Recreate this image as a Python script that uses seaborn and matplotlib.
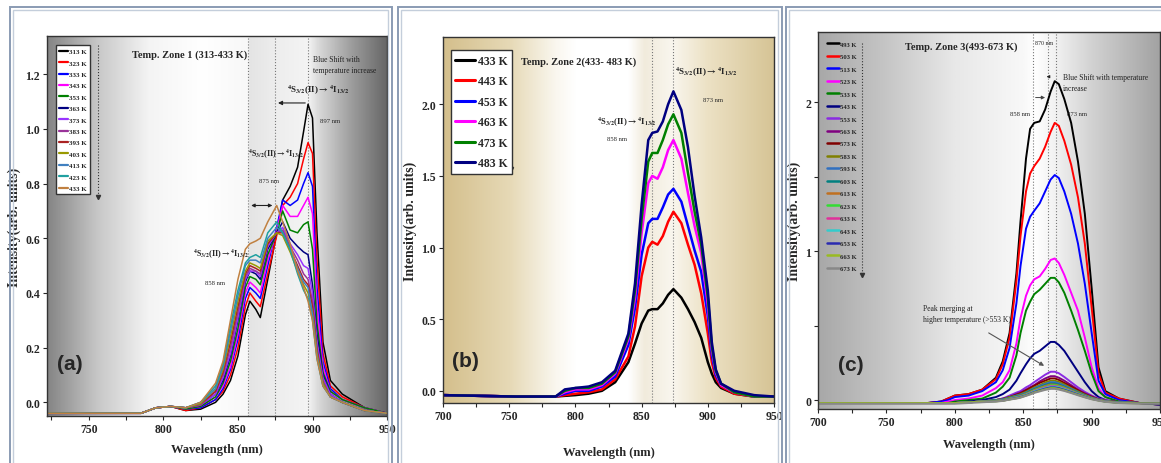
import numpy as np
import pandas as pd
import matplotlib
matplotlib.use("Agg")
import matplotlib.pyplot as plt
import seaborn as sns
from matplotlib.colors import LinearSegmentedColormap
from matplotlib.patches import Rectangle


# ─────────────────────────────────────────────
# DATA
# ─────────────────────────────────────────────
# (a) zone 1, 313-433 K
WL_A = [722, 785, 795, 805, 815, 825, 835, 840, 845, 850, 855, 858, 862, 865,
        870, 876, 880, 885, 890, 894, 897, 900, 903, 907, 912, 920, 935, 950]
TEMPS_A = ["313 K", "323 K", "333 K", "343 K", "353 K", "363 K", "373 K",
           "383 K", "393 K", "403 K", "413 K", "423 K", "433 K"]
COLORS_A = ["#000000", "#ff0000", "#0000ff", "#ff00ff", "#008000", "#000080",
            "#9933ff", "#993399", "#aa2222", "#999900", "#4080c0", "#20a0a0",
            "#c08040"]
I_313 = [-0.04, -0.04, -0.02, -0.015, -0.03, -0.025, 0.0, 0.03, 0.08, 0.17, 0.32, 0.37, 0.34, 0.31,
         0.45, 0.62, 0.74, 0.79, 0.86, 0.99, 1.09, 1.04, 0.62, 0.22, 0.08, 0.03, -0.02, -0.04]
I_323 = [-0.04, -0.04, -0.02, -0.015, -0.03, -0.02, 0.01, 0.04, 0.10, 0.20, 0.35, 0.40, 0.37, 0.35,
         0.47, 0.61, 0.72, 0.75, 0.80, 0.89, 0.95, 0.91, 0.52, 0.18, 0.06, 0.02, -0.02, -0.04]
I_333 = [-0.04, -0.04, -0.02, -0.015, -0.025, -0.02, 0.01, 0.05, 0.12, 0.23, 0.38, 0.42, 0.40, 0.38,
         0.50, 0.64, 0.74, 0.72, 0.74, 0.80, 0.84, 0.79, 0.42, 0.15, 0.05, 0.01, -0.02, -0.04]
I_343 = [-0.04, -0.04, -0.02, -0.015, -0.025, -0.015, 0.02, 0.06, 0.13, 0.25, 0.40, 0.44, 0.42, 0.40,
         0.52, 0.63, 0.72, 0.68, 0.68, 0.72, 0.75, 0.69, 0.35, 0.13, 0.04, 0.01, -0.02, -0.04]
I_353 = [-0.04, -0.04, -0.02, -0.015, -0.025, -0.015, 0.02, 0.07, 0.15, 0.27, 0.42, 0.46, 0.45, 0.43,
         0.54, 0.62, 0.70, 0.63, 0.62, 0.65, 0.66, 0.56, 0.29, 0.11, 0.04, 0.01, -0.02, -0.04]
I_363 = [-0.04, -0.04, -0.02, -0.015, -0.02, -0.01, 0.03, 0.08, 0.17, 0.30, 0.44, 0.48, 0.47, 0.45,
         0.56, 0.62, 0.66, 0.60, 0.57, 0.55, 0.54, 0.43, 0.25, 0.10, 0.03, 0.0, -0.03, -0.04]
I_373 = [-0.04, -0.04, -0.02, -0.015, -0.02, -0.01, 0.03, 0.09, 0.18, 0.31, 0.45, 0.48, 0.48, 0.46,
         0.57, 0.62, 0.64, 0.58, 0.54, 0.50, 0.49, 0.40, 0.22, 0.09, 0.03, 0.0, -0.03, -0.04]
I_383 = [-0.04, -0.04, -0.02, -0.015, -0.02, -0.01, 0.04, 0.10, 0.20, 0.33, 0.46, 0.49, 0.48, 0.47,
         0.58, 0.62, 0.63, 0.57, 0.52, 0.47, 0.45, 0.37, 0.20, 0.08, 0.02, 0.0, -0.03, -0.04]
I_393 = [-0.04, -0.04, -0.02, -0.015, -0.02, -0.005, 0.04, 0.11, 0.22, 0.35, 0.47, 0.50, 0.49, 0.48,
         0.58, 0.62, 0.62, 0.56, 0.50, 0.45, 0.43, 0.35, 0.19, 0.07, 0.02, 0.0, -0.03, -0.04]
I_403 = [-0.04, -0.04, -0.02, -0.015, -0.02, -0.005, 0.05, 0.12, 0.24, 0.37, 0.48, 0.51, 0.50, 0.49,
         0.59, 0.62, 0.61, 0.55, 0.48, 0.43, 0.40, 0.33, 0.18, 0.07, 0.02, 0.0, -0.03, -0.04]
I_413 = [-0.04, -0.04, -0.02, -0.015, -0.02, 0.0, 0.05, 0.13, 0.26, 0.39, 0.50, 0.52, 0.52, 0.51,
         0.60, 0.64, 0.62, 0.56, 0.49, 0.44, 0.42, 0.32, 0.17, 0.06, 0.02, 0.0, -0.03, -0.04]
I_423 = [-0.04, -0.04, -0.02, -0.015, -0.02, 0.0, 0.06, 0.14, 0.28, 0.41, 0.51, 0.53, 0.54, 0.53,
         0.62, 0.66, 0.62, 0.56, 0.47, 0.41, 0.38, 0.30, 0.16, 0.06, 0.02, 0.0, -0.03, -0.04]
I_433a = [-0.04, -0.04, -0.02, -0.015, -0.02, 0.0, 0.07, 0.15, 0.30, 0.45, 0.56, 0.58, 0.59, 0.60,
          0.66, 0.72, 0.66, 0.58, 0.48, 0.42, 0.37, 0.30, 0.16, 0.06, 0.02, 0.0, -0.03, -0.04]
SERIES_A = [I_313, I_323, I_333, I_343, I_353, I_363, I_373, I_383, I_393,
            I_403, I_413, I_423, I_433a]

# (b) zone 2, 433-483 K
WL_B = [700, 755, 785, 792, 800, 810, 820, 830, 840, 845, 850, 855, 858, 862,
        866, 870, 874, 880, 885, 890, 895, 900, 903, 906, 910, 920, 935, 950]
TEMPS_B = ["433 K", "443 K", "453 K", "463 K", "473 K", "483 K"]
COLORS_B = ["#000000", "#ff0000", "#0000ff", "#ff00ff", "#008000", "#000080"]
I_433b = [-0.03, -0.04, -0.04, -0.035, -0.03, -0.02, 0.0, 0.06, 0.20, 0.33, 0.47, 0.56, 0.57, 0.57,
          0.61, 0.67, 0.71, 0.65, 0.57, 0.48, 0.37, 0.20, 0.12, 0.06, 0.02, -0.02, -0.04, -0.04]
I_443 = [-0.03, -0.04, -0.04, -0.03, -0.02, -0.01, 0.01, 0.08, 0.24, 0.45, 0.80, 1.00, 1.04, 1.02,
         1.08, 1.18, 1.25, 1.17, 1.02, 0.88, 0.68, 0.40, 0.20, 0.09, 0.03, -0.02, -0.04, -0.04]
I_453 = [-0.03, -0.04, -0.04, -0.02, 0.0, 0.0, 0.03, 0.10, 0.32, 0.58, 0.95, 1.17, 1.20, 1.20,
         1.28, 1.37, 1.41, 1.32, 1.15, 0.98, 0.83, 0.52, 0.25, 0.11, 0.04, -0.01, -0.04, -0.04]
I_463 = [-0.03, -0.04, -0.04, -0.01, 0.01, 0.01, 0.04, 0.12, 0.36, 0.65, 1.10, 1.45, 1.50, 1.48,
         1.56, 1.68, 1.75, 1.62, 1.38, 1.15, 0.96, 0.60, 0.29, 0.13, 0.04, -0.01, -0.04, -0.04]
I_473 = [-0.03, -0.04, -0.04, 0.0, 0.02, 0.02, 0.05, 0.13, 0.38, 0.70, 1.20, 1.60, 1.66, 1.66,
         1.75, 1.86, 1.93, 1.80, 1.52, 1.25, 1.02, 0.65, 0.31, 0.14, 0.05, -0.01, -0.04, -0.04]
I_483 = [-0.03, -0.04, -0.04, 0.01, 0.02, 0.03, 0.06, 0.14, 0.40, 0.75, 1.30, 1.75, 1.80, 1.81,
         1.88, 2.00, 2.09, 1.96, 1.70, 1.36, 1.07, 0.70, 0.34, 0.15, 0.05, 0.0, -0.03, -0.04]
SERIES_B = [I_433b, I_443, I_453, I_463, I_473, I_483]

# (c) zone 3, 493-673 K
WL_C = [700, 780, 790, 795, 800, 810, 820, 830, 835, 840, 845, 848, 852, 855, 858,
        862, 866, 870, 873, 876, 880, 885, 890, 895, 900, 905, 910, 920, 935, 950]
TEMPS_C = ["493 K", "503 K", "513 K", "523 K", "533 K", "543 K", "553 K",
           "563 K", "573 K", "583 K", "593 K", "603 K", "613 K", "623 K",
           "633 K", "643 K", "653 K", "663 K", "673 K"]
COLORS_C = ["#000000", "#ff0000", "#0000ff", "#ff00ff", "#008000", "#000080",
            "#8a2be2", "#800080", "#800000", "#808000", "#3070c0", "#008080",
            "#c07020", "#33dd33", "#e0309a", "#33cccc", "#2a2ab0", "#99bb22",
            "#888888"]
I_493 = [-0.02, -0.02, -0.01, 0.01, 0.03, 0.04, 0.07, 0.15, 0.26, 0.45, 0.85, 1.20, 1.62, 1.82, 1.86,
         1.87, 1.95, 2.07, 2.14, 2.12, 2.02, 1.86, 1.60, 1.25, 0.75, 0.22, 0.06, 0.01, -0.02, -0.03]
I_503 = [-0.02, -0.02, -0.01, 0.01, 0.03, 0.04, 0.07, 0.14, 0.24, 0.42, 0.80, 1.10, 1.40, 1.52, 1.57,
         1.62, 1.70, 1.80, 1.86, 1.84, 1.74, 1.58, 1.36, 1.05, 0.62, 0.18, 0.05, 0.01, -0.02, -0.03]
I_513 = [-0.02, -0.02, -0.01, 0.0, 0.02, 0.03, 0.06, 0.12, 0.20, 0.35, 0.65, 0.90, 1.15, 1.23, 1.27,
         1.32, 1.40, 1.48, 1.51, 1.49, 1.40, 1.25, 1.05, 0.78, 0.45, 0.13, 0.04, 0.0, -0.02, -0.03]
I_523 = [-0.02, -0.02, -0.02, -0.01, 0.0, 0.01, 0.03, 0.08, 0.12, 0.20, 0.38, 0.55, 0.70, 0.77, 0.81,
         0.83, 0.88, 0.94, 0.95, 0.92, 0.84, 0.72, 0.60, 0.42, 0.22, 0.08, 0.02, -0.01, -0.02, -0.03]
I_533 = [-0.02, -0.02, -0.02, -0.02, -0.01, 0.0, 0.01, 0.05, 0.09, 0.15, 0.30, 0.45, 0.60, 0.66, 0.71,
         0.74, 0.78, 0.82, 0.82, 0.79, 0.72, 0.60, 0.47, 0.33, 0.18, 0.06, 0.02, -0.01, -0.02, -0.03]
I_543 = [-0.02, -0.02, -0.02, -0.02, -0.02, -0.01, 0.0, 0.02, 0.04, 0.07, 0.13, 0.18, 0.24, 0.28, 0.31,
         0.33, 0.36, 0.39, 0.39, 0.37, 0.33, 0.26, 0.19, 0.12, 0.06, 0.02, 0.0, -0.02, -0.02, -0.03]
I_553 = [-0.02, -0.02, -0.02, -0.02, -0.02, -0.015, -0.01, 0.0, 0.01, 0.03, 0.05, 0.06, 0.085, 0.10, 0.12,
         0.145, 0.17, 0.19, 0.19, 0.18, 0.155, 0.12, 0.085, 0.055, 0.03, 0.01, 0.0, -0.015, -0.02, -0.02]
I_563 = [-0.02, -0.02, -0.02, -0.02, -0.02, -0.015, -0.01, 0.0, 0.01, 0.02, 0.04, 0.05, 0.07, 0.085, 0.10,
         0.125, 0.145, 0.16, 0.16, 0.15, 0.13, 0.10, 0.07, 0.045, 0.025, 0.005, -0.005, -0.015, -0.02, -0.02]
I_573 = [-0.02, -0.02, -0.02, -0.02, -0.02, -0.015, -0.01, 0.0, 0.005, 0.02, 0.035, 0.045, 0.065, 0.08, 0.095,
         0.115, 0.13, 0.145, 0.145, 0.135, 0.115, 0.09, 0.065, 0.04, 0.02, 0.005, -0.005, -0.015, -0.02, -0.02]
I_583 = [-0.02, -0.02, -0.02, -0.02, -0.02, -0.015, -0.01, 0.0, 0.005, 0.02, 0.03, 0.04, 0.055, 0.07, 0.085,
         0.10, 0.118, 0.13, 0.13, 0.122, 0.105, 0.08, 0.058, 0.036, 0.018, 0.004, -0.006, -0.015, -0.02, -0.02]
I_593 = [-0.02, -0.02, -0.02, -0.02, -0.02, -0.015, -0.01, 0.0, 0.005, 0.015, 0.03, 0.035, 0.05, 0.065, 0.078,
         0.095, 0.108, 0.12, 0.12, 0.112, 0.097, 0.075, 0.053, 0.033, 0.015, 0.003, -0.007, -0.016, -0.02, -0.02]
I_603 = [-0.02, -0.02, -0.02, -0.02, -0.02, -0.015, -0.01, -0.002, 0.0, 0.015, 0.025, 0.03, 0.045, 0.06, 0.072,
         0.086, 0.10, 0.11, 0.11, 0.103, 0.089, 0.069, 0.049, 0.03, 0.013, 0.002, -0.008, -0.016, -0.02, -0.02]
I_613 = [-0.02, -0.02, -0.02, -0.02, -0.02, -0.015, -0.01, -0.005, 0.0, 0.012, 0.022, 0.028, 0.043, 0.055, 0.068,
         0.082, 0.095, 0.105, 0.104, 0.098, 0.085, 0.066, 0.047, 0.028, 0.012, 0.001, -0.008, -0.017, -0.02, -0.02]
I_623 = [-0.02, -0.02, -0.02, -0.02, -0.02, -0.015, -0.01, -0.005, 0.0, 0.01, 0.02, 0.026, 0.04, 0.052, 0.065,
         0.078, 0.09, 0.10, 0.10, 0.094, 0.081, 0.063, 0.045, 0.027, 0.011, 0.0, -0.009, -0.017, -0.02, -0.02]
I_633 = [-0.02, -0.02, -0.02, -0.02, -0.02, -0.015, -0.01, -0.006, -0.002, 0.008, 0.018, 0.024, 0.037, 0.049, 0.061,
         0.074, 0.086, 0.095, 0.095, 0.089, 0.077, 0.06, 0.042, 0.025, 0.01, 0.0, -0.009, -0.018, -0.02, -0.02]
I_643 = [-0.02, -0.02, -0.02, -0.02, -0.02, -0.015, -0.01, -0.007, -0.003, 0.006, 0.016, 0.022, 0.035, 0.046, 0.058,
         0.07, 0.081, 0.09, 0.09, 0.085, 0.073, 0.057, 0.04, 0.023, 0.009, -0.001, -0.01, -0.018, -0.02, -0.02]
I_653 = [-0.02, -0.02, -0.02, -0.02, -0.02, -0.015, -0.01, -0.008, -0.004, 0.005, 0.014, 0.02, 0.032, 0.043, 0.054,
         0.066, 0.077, 0.085, 0.085, 0.08, 0.069, 0.054, 0.038, 0.022, 0.008, -0.002, -0.01, -0.018, -0.02, -0.02]
I_663 = [-0.02, -0.02, -0.02, -0.02, -0.02, -0.015, -0.01, -0.009, -0.005, 0.004, 0.012, 0.018, 0.03, 0.04, 0.051,
         0.062, 0.072, 0.08, 0.08, 0.075, 0.065, 0.05, 0.035, 0.02, 0.007, -0.003, -0.011, -0.019, -0.022, -0.022]
I_673 = [-0.025, -0.025, -0.025, -0.025, -0.025, -0.02, -0.015, -0.01, -0.006, 0.003, 0.01, 0.016, 0.028, 0.037, 0.048,
         0.058, 0.068, 0.075, 0.075, 0.07, 0.061, 0.047, 0.032, 0.018, 0.005, -0.004, -0.012, -0.02, -0.025, -0.025]
SERIES_C = [I_493, I_503, I_513, I_523, I_533, I_543, I_553, I_563, I_573, I_583,
            I_593, I_603, I_613, I_623, I_633, I_643, I_653, I_663, I_673]

TRANS = r"$^{4}$S$_{3/2}$(II)$\rightarrow$$^{4}$I$_{13/2}$"


# ─────────────────────────────────────────────
# STYLE
# ─────────────────────────────────────────────
sns.set_theme(style="ticks")
plt.rcParams["font.family"] = ["Liberation Serif", "DejaVu Serif"]
plt.rcParams["font.weight"] = "bold"
plt.rcParams["axes.labelweight"] = "bold"
plt.rcParams["mathtext.fontset"] = "stix"
plt.rcParams["axes.edgecolor"] = "#333333"
plt.rcParams["axes.linewidth"] = 1.0


def long_frame(wl, temps, series):
    rows = []
    for t, vals in zip(temps, series, strict=True):
        for w, v in zip(wl, vals, strict=True):
            rows.append((w, v, t))
    return pd.DataFrame(rows, columns=["wl", "I", "T"])


def paint_background(ax, stops, xlim, ylim):
    span = xlim[1] - xlim[0]
    cmap = LinearSegmentedColormap.from_list(
        "bg", [((w - xlim[0]) / span, c) for w, c in stops])
    ax.imshow(np.linspace(0, 1, 600)[None, :], extent=(*xlim, *ylim),
              aspect="auto", cmap=cmap, zorder=0, interpolation="bilinear")


def setup_panel(ax, df, temps, colors, xlim, ylim, lw, stops, yticks, ylabels,
                xlabelpad):
    paint_background(ax, stops, xlim, ylim)
    sns.lineplot(data=df, x="wl", y="I", hue="T", hue_order=temps,
                 palette=dict(zip(temps, colors)), estimator=None,
                 lw=lw, ax=ax, zorder=2)
    ax.set_xticks(np.arange(700, 951, 50))
    ax.set_xticks(np.arange(700, 951, 25), minor=True)
    ax.set_yticks(yticks)
    ax.set_yticklabels(ylabels)
    ax.set_xlim(*xlim)
    ax.set_ylim(*ylim)
    ax.tick_params(which="both", direction="out", length=3, width=0.8,
                   labelsize=8.5, pad=2)
    ax.set_xlabel("Wavelength (nm)", fontsize=9, labelpad=xlabelpad)
    ax.set_ylabel("Intensity(arb. units)", fontsize=10, labelpad=3)
    for s in ax.spines.values():
        s.set_visible(True)
    for lab in ax.get_xticklabels() + ax.get_yticklabels():
        lab.set_fontweight("bold")


def legend_arrow(ax, x, y0, y1):
    ax.plot([x, x], [y0, y1], transform=ax.transAxes, ls=":", lw=0.8,
            color="#333333", zorder=5)
    ax.plot([x], [y1], transform=ax.transAxes, marker="v", ms=3,
            color="#333333", zorder=5)


# ─────────────────────────────────────────────
# FIGURE
# ─────────────────────────────────────────────
fig = plt.figure(figsize=(11.61, 4.64), dpi=100)
fig.patch.set_facecolor("white")

for x0, w in [(0.0086, 0.329), (0.3428, 0.3307), (0.677, 0.33)]:
    fig.patches.append(Rectangle((x0, -0.02), w, 1.003, transform=fig.transFigure,
                                 fill=False, ec="#8a9bb3", lw=1.4, zorder=0))
    fig.patches.append(Rectangle((x0 + 0.003, -0.02), w - 0.006, 0.996,
                                 transform=fig.transFigure, fill=False,
                                 ec="#c4cedb", lw=1.0, zorder=0))

# ---- (a) ----
ax_a = fig.add_axes([0.0405, 0.1013, 0.2929, 0.819])
stops_a = [(722, "#858585"), (756, "#c8c8c8"), (790, "#f4f4f4"), (825, "#ffffff"),
           (856.5, "#f8f8f8"), (857.5, "#e4e4e4"), (875, "#ededed"),
           (897, "#f4f4f4"), (905, "#d6d6d6"), (925, "#a0a0a0"), (950, "#666666")]
ticks_a = [0.0, 0.2, 0.4, 0.6, 0.8, 1.0, 1.2]
setup_panel(ax_a, long_frame(WL_A, TEMPS_A, SERIES_A), TEMPS_A, COLORS_A,
            (722, 950), (-0.05, 1.34), 1.1, stops_a, ticks_a,
            [f"{v:.1f}" for v in ticks_a], 6)
h, l = ax_a.get_legend_handles_labels()
leg = ax_a.legend(h, l, loc="upper left", bbox_to_anchor=(0.015, 0.985),
                  prop={"size": 5.0, "weight": "bold"}, handlelength=1.3,
                  handletextpad=0.25, labelspacing=0.8, borderpad=0.45,
                  frameon=True, fancybox=False, edgecolor="#333333",
                  framealpha=1)
for ln in leg.get_lines():
    ln.set_linewidth(1.6)
legend_arrow(ax_a, 0.15, 0.975, 0.575)
for w in (857, 875, 897):
    ax_a.axvline(w, ls=":", lw=0.8, color="#777777", zorder=1)
ax_a.text(0.42, 0.965, "Temp. Zone 1 (313-433 K)", transform=ax_a.transAxes,
          ha="center", va="top", fontsize=7.5)
ax_a.text(900, 1.27, "Blue Shift with\ntemperature increase", fontsize=5.5,
          fontweight="normal", color="#222222", va="top", linespacing=1.5)
ax_a.text(883, 1.145, TRANS, fontsize=6.5, va="center")
ax_a.text(905, 1.03, "897 nm", fontsize=4.8, fontweight="normal", va="center")
ax_a.annotate("", xy=(875, 1.095), xytext=(897, 1.095),
              arrowprops=dict(arrowstyle="-|>", lw=0.8, color="#222222",
                              mutation_scale=6))
ax_a.text(857, 0.91, TRANS, fontsize=5.8, va="center")
ax_a.text(864, 0.81, "875 nm", fontsize=4.8, fontweight="normal", va="center")
ax_a.annotate("", xy=(857, 0.72), xytext=(875, 0.72),
              arrowprops=dict(arrowstyle="<|-|>", lw=0.8, color="#222222",
                              mutation_scale=5))
ax_a.text(820, 0.545, TRANS, fontsize=5.8, va="center")
ax_a.text(828, 0.44, "858 nm", fontsize=4.8, fontweight="normal", va="center")
ax_a.text(0.03, 0.137, "(a)", transform=ax_a.transAxes, fontsize=15,
          family="Liberation Sans", fontweight="bold", va="center")

# ---- (b) ----
ax_b = fig.add_axes([0.3816, 0.1293, 0.2851, 0.789])
stops_b = [(700, "#d4bf8c"), (750, "#e6d9b6"), (785, "#faf7ef"), (800, "#ffffff"),
           (840, "#ffffff"), (852, "#f1ebdc"), (873, "#f9f6ee"), (900, "#ece1c4"),
           (950, "#d6c495")]
setup_panel(ax_b, long_frame(WL_B, TEMPS_B, SERIES_B), TEMPS_B, COLORS_B,
            (700, 950), (-0.085, 2.47), 1.8, stops_b,
            [0.0, 0.5, 1.0, 1.5, 2.0], ["0.0", "0.5", "1.0", "1.5", "2.0"], 17)
h, l = ax_b.get_legend_handles_labels()
leg = ax_b.legend(h, l, loc="upper left", bbox_to_anchor=(0.005, 0.98),
                  prop={"size": 8.5, "weight": "bold"}, handlelength=1.7,
                  handletextpad=0.2, labelspacing=0.72, borderpad=0.4,
                  frameon=True, fancybox=False, edgecolor="#333333",
                  framealpha=1)
for ln in leg.get_lines():
    ln.set_linewidth(2.2)
legend_arrow(ax_b, 0.205, 0.96, 0.64)
for w in (858, 874):
    ax_b.axvline(w, ls=":", lw=0.8, color="#777777", zorder=1)
ax_b.text(0.41, 0.935, "Temp. Zone 2(433- 483 K)", transform=ax_b.transAxes,
          ha="center", va="center", fontsize=7.5)
ax_b.text(875, 2.23, TRANS, fontsize=6.5, va="center")
ax_b.text(896, 2.03, "873 nm", fontsize=4.8, fontweight="normal", va="center")
ax_b.text(816, 1.88, TRANS, fontsize=6.2, va="center")
ax_b.text(824, 1.76, "858 nm", fontsize=4.8, fontweight="normal", va="center")
ax_b.text(0.027, 0.115, "(b)", transform=ax_b.transAxes, fontsize=15,
          family="Liberation Sans", fontweight="bold", va="center")

# ---- (c) ----
ax_c = fig.add_axes([0.7046, 0.1164, 0.2946, 0.8125])
stops_c = [(700, "#a8a8a8"), (750, "#c6c6c6"), (800, "#e8e8e8"), (850, "#f8f8f8"),
           (858, "#ffffff"), (873, "#f2f2f2"), (900, "#d2d2d2"), (950, "#a2a2a2")]
setup_panel(ax_c, long_frame(WL_C, TEMPS_C, SERIES_C), TEMPS_C, COLORS_C,
            (700, 950), (-0.06, 2.47), 1.4, stops_c,
            [0, 0.5, 1, 1.5, 2], ["0", "", "1", "", "2"], 7)
h, l = ax_c.get_legend_handles_labels()
leg = ax_c.legend(h, l, loc="upper left", bbox_to_anchor=(0.01, 0.99),
                  prop={"size": 4.8, "weight": "bold"}, handlelength=1.8,
                  handletextpad=0.2, labelspacing=1.02, borderpad=0.3,
                  frameon=False)
for ln in leg.get_lines():
    ln.set_linewidth(1.8)
legend_arrow(ax_c, 0.129, 0.97, 0.355)
for w in (857, 868, 874):
    ax_c.axvline(w, ls=":", lw=0.8, color="#777777", zorder=1)
ax_c.text(0.418, 0.963, "Temp. Zone 3(493-673 K)", transform=ax_c.transAxes,
          ha="center", va="center", fontsize=7.5)
ax_c.text(865, 2.40, "870 nm", fontsize=4.3, fontweight="normal",
          ha="center", va="center")
ax_c.annotate("", xy=(867, 2.17), xytext=(871, 2.17),
              arrowprops=dict(arrowstyle="-|>", lw=0.7, color="#222222",
                              mutation_scale=4))
ax_c.text(879, 2.13, "Blue Shift with temperature\nincrease", fontsize=5.5,
          fontweight="normal", va="center", linespacing=1.5, color="#222222")
ax_c.annotate("", xy=(868, 2.03), xytext=(857, 2.03),
              arrowprops=dict(arrowstyle="-|>", lw=0.7, color="#444444",
                              mutation_scale=5))
ax_c.text(855, 1.92, "858 nm", fontsize=4.8, fontweight="normal",
          ha="right", va="center")
ax_c.text(882, 1.92, "873 nm", fontsize=4.8, fontweight="normal", va="center")
ax_c.text(777, 0.58, "Peak merging at\nhigher temperature (>553 K)", fontsize=5.5,
          fontweight="normal", va="center", linespacing=1.6, color="#222222")
ax_c.annotate("", xy=(867, 0.22), xytext=(823, 0.46),
              arrowprops=dict(arrowstyle="-|>", lw=0.8, color="#555555",
                              mutation_scale=6))
ax_c.text(0.058, 0.117, "(c)", transform=ax_c.transAxes, fontsize=15,
          family="Liberation Sans", fontweight="bold", va="center")

fig.savefig("out.png", dpi=100)
